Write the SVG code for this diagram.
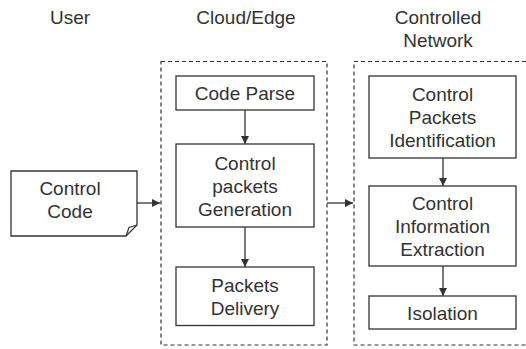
<svg xmlns="http://www.w3.org/2000/svg" width="526" height="349" viewBox="0 0 526 349">
<style>
  text { font-family: "Liberation Sans", Arial, sans-serif; font-size: 19px; fill: #333; text-anchor: middle; }
  .box { fill: #fff; stroke: #333; stroke-width: 1.3; }
  .group { fill: none; stroke: #333; stroke-width: 1.2; stroke-dasharray: 4 3; }
  .conn { fill: none; stroke: #333; stroke-width: 1.3; marker-end: url(#arrow); }
</style>
<defs>
  <marker id="arrow" viewBox="0 0 10 10" refX="10" refY="5" markerWidth="8" markerHeight="8" markerUnits="userSpaceOnUse" orient="auto">
    <path d="M0,0 L10,5 L0,10 Z" fill="#333"/>
  </marker>
</defs>
<rect width="526" height="349" fill="#fff"/>

<g id="headers">
  <text x="70" y="24">User</text>
  <text x="246" y="24">Cloud/Edge</text>
  <text x="438" y="24">Controlled</text>
  <text x="438" y="47">Network</text>
</g>

<g id="cloud-edge-group"><rect class="group" x="161" y="61.5" width="166" height="283.5"/></g>
<g id="controlled-network-group"><rect class="group" x="354" y="61.5" width="175" height="283.5"/></g>

<g id="control-code">
  <path class="box" d="M11,171 H137 V225 L126,236 H11 Z"/>
  <path fill="none" stroke="#333" stroke-width="1.2" d="M126,236 L129,227.5 L137,225"/>
  <text x="70" y="195">Control</text>
  <text x="70" y="218">Code</text>
</g>

<g id="code-parse">
  <rect class="box" x="176" y="76" width="138" height="34"/>
  <text x="245" y="100">Code Parse</text>
</g>

<g id="control-packets-generation">
  <rect class="box" x="176" y="144" width="138" height="83"/>
  <text x="245" y="170">Control</text>
  <text x="245" y="193">packets</text>
  <text x="245" y="216">Generation</text>
</g>

<g id="packets-delivery">
  <rect class="box" x="176" y="267" width="138" height="58.5"/>
  <text x="245" y="292">Packets</text>
  <text x="245" y="315">Delivery</text>
</g>

<g id="control-packets-identification">
  <rect class="box" x="369" y="76" width="147" height="82"/>
  <text x="442.5" y="101">Control</text>
  <text x="442.5" y="124">Packets</text>
  <text x="442.5" y="147">Identification</text>
</g>

<g id="control-information-extraction">
  <rect class="box" x="369" y="186" width="147" height="80"/>
  <text x="442.5" y="210">Control</text>
  <text x="442.5" y="233">Information</text>
  <text x="442.5" y="256">Extraction</text>
</g>

<g id="isolation">
  <rect class="box" x="369" y="296" width="147" height="33"/>
  <text x="442.5" y="319.5">Isolation</text>
</g>

<g id="connectors">
  <line class="conn" x1="137" y1="203" x2="160" y2="203"/>
  <line class="conn" x1="245" y1="110" x2="245" y2="144"/>
  <line class="conn" x1="245" y1="227" x2="245" y2="267"/>
  <line class="conn" x1="327" y1="203" x2="353" y2="203"/>
  <line class="conn" x1="443" y1="158" x2="443" y2="186"/>
  <line class="conn" x1="443" y1="266" x2="443" y2="296"/>
</g>
</svg>
